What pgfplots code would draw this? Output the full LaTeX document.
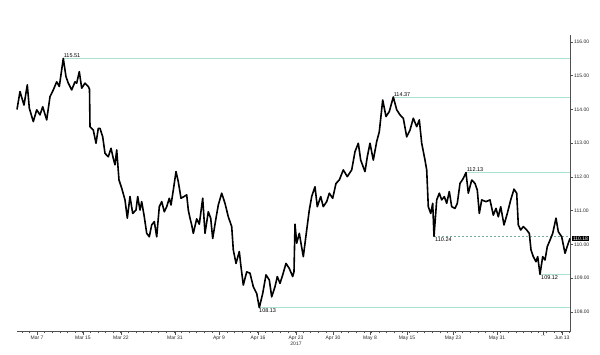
\documentclass[border=0pt]{standalone}
\usepackage{pgfplots}
\pgfplotsset{compat=1.18}
\usepackage{fontspec}
\setmainfont{Liberation Sans}
\definecolor{mint}{RGB}{170,224,206}
\definecolor{dashc}{RGB}{120,170,155}
\definecolor{axgray}{RGB}{80,80,80}
\newcommand{\lblfont}{\fontsize{5.5}{6}\selectfont}
\begin{document}
\begin{tikzpicture}[x=1pt,y=1pt]
\path[use as bounding box] (0,0) rectangle (600,354);
\begin{axis}[
  at={(17pt,22.4pt)}, anchor=south west,
  scale only axis, width=553pt, height=296.4pt,
  xmin=17, xmax=570, ymin=107.42, ymax=116.2,
  axis x line*=bottom, axis y line*=right,
  axis line style={axgray, line width=0.6pt},
  clip=false,
  tick align=outside,
  major tick length=3pt, minor tick length=1.8pt,
  tick style={axgray, line width=0.5pt},
  /pgf/number format/assume math mode=true,
  ticklabel style={font=\fontsize{5}{6}\selectfont, text=black!85},
  xtick={37,83,121,175,219,258,296,333,370,407,453,497,543,562},
  xticklabels={Mar 7, Mar 15, Mar 22, Mar 31, Apr 9, Apr 16, {Apr 23\\2017}, Apr 30, May 8, May 15, May 23, May 31, {\ldots}, Jun 13},
  xticklabel style={align=center, inner sep=1pt},
  minor xtick={21.8,29.4,...,570},
  ytick={108,109,...,116},
  yticklabel style={inner sep=1pt, /pgf/number format/fixed, /pgf/number format/fixed zerofill, /pgf/number format/precision=2},
]
% level lines
\addplot[mint, line width=0.8pt] coordinates {(63.3,115.51) (570,115.51)};
\addplot[mint, line width=0.8pt] coordinates {(393.3,114.37) (570,114.37)};
\addplot[mint, line width=0.8pt] coordinates {(466,112.13) (570,112.13)};
\addplot[dashc, line width=0.6pt, dash pattern=on 2pt off 2pt] coordinates {(434,110.24) (570,110.24)};
\addplot[mint, line width=0.8pt] coordinates {(540,109.12) (570,109.12)};
\addplot[mint, line width=0.8pt] coordinates {(259.3,108.13) (570,108.13)};
% price
\addplot[black, line width=1.6pt, line join=round] coordinates {
(17,114.00) (20,114.53) (24,114.13) (27.3,114.73) (29.3,114.04) (33.3,113.64)
(36.7,113.99) (40,113.84) (42.7,114.08) (46.7,113.69) (50,114.38) (53.3,114.58)
(56.7,114.82) (59.3,114.68) (63.3,115.51) (66,114.97) (68.3,114.78) (71.7,114.58)
(75,114.82) (76.7,114.78) (79.3,115.12) (81.7,114.63) (85,114.78) (88.3,114.68)
(89.5,114.60) (90,113.49) (93.3,113.39) (96,113.00) (98.3,113.44) (100,113.44)
(102.7,113.19) (105,112.70) (108.3,112.60) (111,112.85) (113.3,112.55) (115,112.36)
(116.7,112.80) (119,111.91) (121.7,111.67) (125,111.32) (127.3,110.78) (130,111.42)
(132.7,110.92) (136,111.02) (137.7,111.42) (140,111.02) (141.7,111.27) (144.3,110.82)
(146.7,110.33) (149.3,110.23) (151.7,110.58) (154.3,110.68) (156.7,110.23) (159.3,111.12)
(161.7,111.27) (164.3,110.97) (166.7,111.12) (169.3,111.37) (171,111.17) (173.3,111.61)
(176,112.16) (178.3,111.86) (181,111.37) (184,111.42) (186.7,111.47) (188.3,111.02)
(190,110.78) (191.7,110.58) (193.3,110.33) (196.7,110.76) (199.3,110.60) (202.7,111.37)
(205,110.33) (208.3,110.97) (210.7,110.78) (212.7,110.18) (216,110.78) (218.3,111.17)
(221.7,111.52) (225,111.22) (228.3,110.82) (231.7,110.53) (233.3,109.84) (236,109.44)
(239.3,109.79) (241,109.34) (243.3,108.80) (246.7,109.19) (250,109.15) (253.3,108.75)
(256.7,108.55) (259.3,108.13) (262.7,108.55) (266,109.10) (269.3,108.95) (271.7,108.45)
(275,108.75) (277.3,109.05) (280,108.85) (282.7,109.10) (286,109.44) (289.3,109.29)
(292.7,109.05) (294,109.20) (295,110.60) (296.7,110.04) (299.3,110.33) (303.3,109.64)
(306.7,110.43) (309.3,111.02) (311.7,111.42) (315,111.71) (317.3,111.12) (320.7,111.42)
(323.3,111.12) (326.7,111.27) (329.3,111.52) (332.7,111.37) (336,111.81) (339.3,111.91)
(343.3,112.21) (347.3,112.01) (351.7,112.21) (355,112.75) (358.3,113.00) (360.7,112.50)
(365,112.16) (367.3,112.60) (370,113.00) (373.3,112.50) (376.7,113.05) (379.3,113.34)
(382.7,114.28) (386,113.79) (389.3,113.94) (393.3,114.37) (396.7,113.99) (400,113.84)
(403.3,113.74) (406.7,113.19) (410,113.39) (413.3,113.74) (416.7,113.49) (419.3,113.69)
(421.7,113.00) (425,112.50) (426.7,112.21) (428.3,111.12) (430.7,110.92) (432.7,111.22)
(434,110.24) (436.7,111.32) (439.3,111.52) (441.7,111.32) (444.3,111.42) (446.7,111.22)
(449.3,111.57) (451.7,111.12) (455,111.07) (457.3,111.22) (460,111.81) (463.3,111.96)
(466,112.13) (468.3,111.52) (471.7,111.91) (475,111.81) (477.3,111.61) (479.3,110.92)
(481.7,111.32) (486,111.27) (490,111.32) (493.3,110.87) (496,111.07) (498.3,110.82)
(500.7,111.12) (504,110.58) (507.3,110.92) (510.7,111.32) (514,111.64) (516.7,111.52)
(518.3,110.58) (520.7,110.43) (523.3,110.53) (526.7,110.43) (529.3,110.33) (531,109.84)
(533.3,109.64) (536,109.49) (537.7,109.64) (540,109.12) (542.7,109.64) (545,109.54)
(547.3,109.94) (550,110.13) (552.7,110.33) (556,110.78) (558.3,110.38) (561.7,110.23)
(565,109.74) (568.3,110.04) (570,110.18)
};
% labels
\node[anchor=south west, inner sep=0.6pt, font=\lblfont] at (axis cs:63,115.51) {115.51};
\node[anchor=south west, inner sep=0.6pt, font=\lblfont] at (axis cs:393,114.37) {114.37};
\node[anchor=south west, inner sep=0.6pt, font=\lblfont] at (axis cs:466,112.13) {112.13};
\node[anchor=north west, inner sep=1pt, font=\lblfont] at (axis cs:434,110.24) {110.24};
\node[anchor=north west, inner sep=1pt, font=\lblfont] at (axis cs:540,109.12) {109.12};
\node[anchor=north west, inner sep=1pt, font=\lblfont] at (axis cs:258,108.13) {108.13};
\node[anchor=west, fill=black, text=white, inner sep=0.8pt, font=\fontsize{5}{6}\selectfont] at (axis cs:572,110.18) {110.18};
\end{axis}
\end{tikzpicture}
\end{document}
